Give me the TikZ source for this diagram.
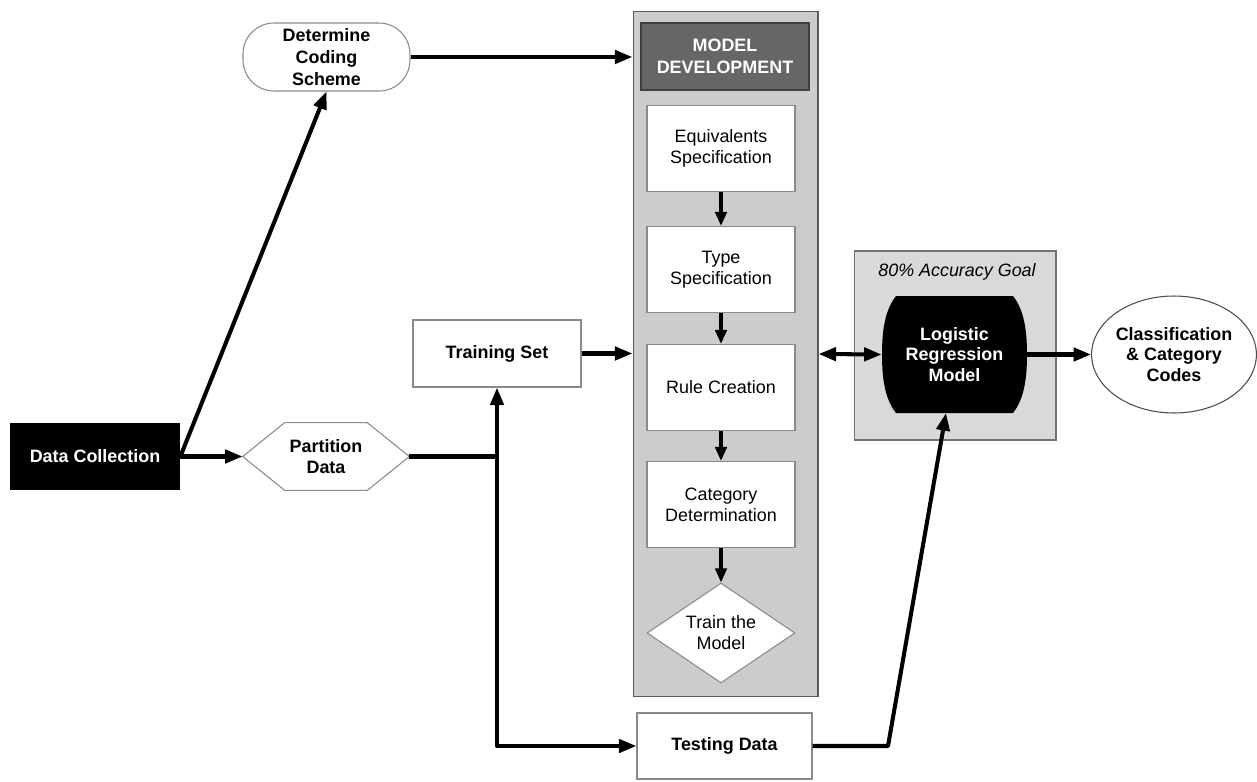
\documentclass[tikz,border=0pt]{standalone}
\usepackage{fontspec}
\setmainfont{Liberation Sans}
\usetikzlibrary{arrows.meta,shapes.geometric,calc}
\definecolor{panelgray}{HTML}{CCCCCC}
\definecolor{accgray}{HTML}{D9D9D9}
\definecolor{darkbox}{HTML}{666666}
\definecolor{boxedge}{HTML}{8A8A8A}
\definecolor{paneledge}{HTML}{5A5A5A}
\begin{document}
\begin{tikzpicture}[x=0.02cm,y=-0.02cm,
  every node/.style={font=\fontsize{10.2}{12}\selectfont, align=center, inner sep=0pt},
  whitebox/.style={draw=boxedge, fill=white, line width=0.6pt, minimum width=2.96cm, minimum height=1.72cm},
  outbox/.style={draw=boxedge, fill=white, line width=0.6pt},
  tight/.style={font=\fontsize{10.2}{11.8}\selectfont\bfseries},
  conn/.style={line width=2.3pt, line join=round, -{Triangle[length=10pt,width=7.5pt]}},
  sconn/.style={line width=1.9pt, -{Triangle[length=8pt,width=6.5pt]}},
  plain/.style={line width=2.3pt, line join=round},
  dconn/.style={line width=2.3pt, {Triangle[length=10pt,width=7.5pt]}-{Triangle[length=10pt,width=7.5pt]}}
]
\useasboundingbox (0,0) rectangle (1257,781);

% Model development panel
\node[draw=paneledge, fill=panelgray, line width=0.6pt, minimum width=3.7cm, minimum height=13.72cm] (panel) at (725.5,354) {};
\node[draw=black!75, fill=darkbox, line width=0.6pt, minimum width=3.36cm, minimum height=1.34cm, text=white, font=\fontsize{10.2}{12.3}\selectfont\bfseries] (md) at (725,56.5) {MODEL\\DEVELOPMENT};
\node[whitebox] (eq) at (721,148.5) {Equivalents\\Specification};
\node[whitebox] (ts) at (721,269.5) {Type\\Specification};
\node[whitebox] (rc) at (721,387.5) {Rule Creation};
\node[whitebox] (cd) at (721,504.5) {Category\\Determination};
\node[diamond, draw=boxedge, fill=white, line width=0.6pt, minimum width=2.96cm, minimum height=2.0cm, aspect=1.48] (train) at (721,633) {Train the\\Model};

% Left part
\node[outbox, rounded corners=0.62cm, minimum width=3.34cm, minimum height=1.36cm, font=\fontsize{10.2}{12.4}\selectfont\bfseries] (dcs) at (326.5,57) {Determine\\Coding\\Scheme};
\node[fill=black, text=white, minimum width=3.4cm, minimum height=1.34cm, font=\fontsize{10.2}{12}\selectfont\bfseries] (dc) at (95,456.5) {Data Collection};
\node[minimum width=3.32cm, minimum height=1.34cm] (pd) at (326,456.5) {};
\draw[draw=boxedge, fill=white, line width=0.6pt] (pd.west) -- ($(pd.north west)+(42,0)$) -- ($(pd.north east)+(-42,0)$) -- (pd.east) -- ($(pd.south east)+(-42,0)$) -- ($(pd.south west)+(42,0)$) -- cycle;
\node[font=\fontsize{10.2}{12.4}\selectfont\bfseries] at (pd.center) {Partition\\Data};
\node[outbox, minimum width=3.36cm, minimum height=1.34cm, font=\fontsize{10.2}{12}\selectfont\bfseries] (tset) at (497,353.5) {Training Set};
\node[outbox, minimum width=3.5cm, minimum height=1.32cm, font=\fontsize{10.2}{12}\selectfont\bfseries] (test) at (724.5,746) {Testing Data};

% Right part
\node[draw=black!55, fill=accgray, line width=0.6pt, minimum width=4.04cm, minimum height=3.78cm] (acc) at (955,345.5) {};
\node[font=\fontsize{10.2}{12}\selectfont\itshape] (acclabel) at (957,272) {80\% Accuracy Goal};
\node[minimum width=2.9cm, minimum height=2.34cm] (lr) at (954.5,354.5) {};
\fill[black] (896,296) -- (1013,296)
  .. controls (1024,310) and (1027,330) .. (1027,354.5)
  .. controls (1027,379) and (1024,399) .. (1013,413)
  -- (896,413)
  .. controls (885,399) and (882,379) .. (882,354.5)
  .. controls (882,330) and (885,310) .. (896,296) -- cycle;
\node[tight, text=white] at (lr.center) {Logistic\\Regression\\Model};
\node[ellipse, draw=black!70, fill=white, line width=0.6pt, minimum width=3.28cm, minimum height=2.34cm, tight] (ell) at (1174,354.5) {Classification\\\& Category\\Codes};

% Connectors
\draw[conn] (dcs.east) -- (dcs.east -| panel.west);
\draw[conn] (dc.east) -- (dcs.south);
\draw[conn] (dc.east) -- (pd.west);
\coordinate (j) at (tset.south |- pd.east);
\draw[plain] (pd.east) -- (j);
\draw[conn] (j |- test.west) -- (tset.south);
\draw[conn] (j) -- (j |- test.west) -- (test.west);
\draw[conn] (tset.east) -- (tset.east -| panel.west);
\draw[sconn] (eq.south) -- (ts.north);
\draw[sconn] (ts.south) -- (rc.north);
\draw[sconn] (rc.south) -- (cd.north);
\draw[sconn] (cd.south) -- (train.north);
\draw[dconn] (panel.east) -- (lr.west);
\draw[conn] (lr.east) -- (ell.west);
\coordinate (bend) at (888,746);
\coordinate (lrin) at (946,413);
\draw[conn] (test.east) -- (bend) -- (lrin);
\end{tikzpicture}
\end{document}
